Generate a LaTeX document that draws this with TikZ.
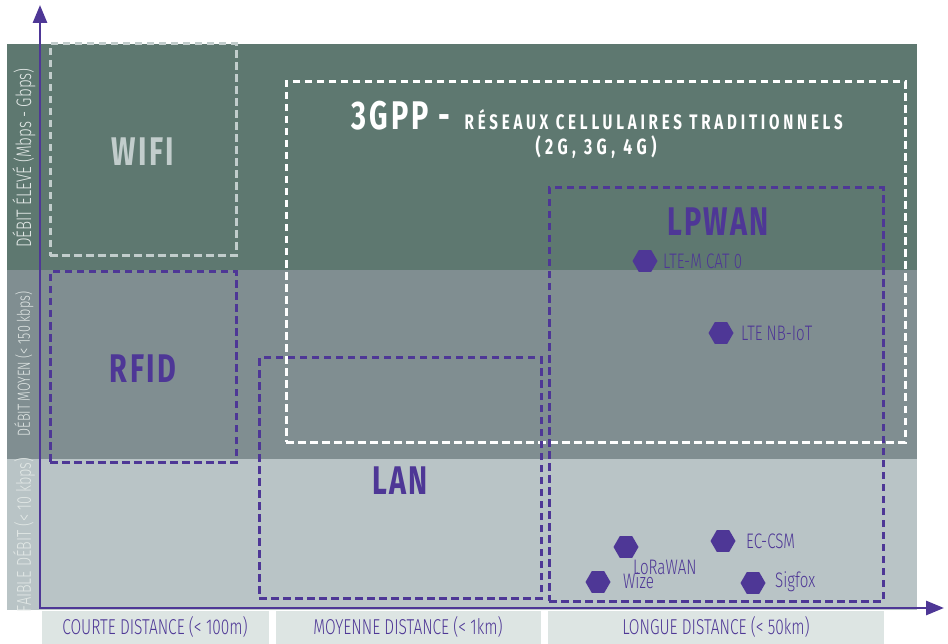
\documentclass[tikz,border=0pt]{standalone}
\usepackage{fontspec}
\usetikzlibrary{shapes.geometric,arrows.meta}
\setmainfont{Fira Sans}[FakeStretch=0.72]
\IfFontExistsTF{Fira Sans Light}{\newfontfamily\lightf{Fira Sans Light}[FakeStretch=0.72]}{\newfontfamily\lightf{Fira Sans}[FakeStretch=0.72]}
\newfontfamily\boldf{Fira Sans Bold}[FakeStretch=0.72]
\definecolor{bandtop}{HTML}{5E7870}
\definecolor{bandmid}{HTML}{808E91}
\definecolor{bandlow}{HTML}{B9C4C6}
\definecolor{labbox}{HTML}{DDE5E3}
\definecolor{purp}{HTML}{4E3796}
\definecolor{wgray}{HTML}{C2CDCC}
\definecolor{axtext}{HTML}{E2E8E6}
\begin{document}
\begin{tikzpicture}[x=1pt,y=-1pt,
  dbox/.style={draw=#1, line width=3pt, dash pattern=on 7.5pt off 4.5pt, inner sep=0pt, fill=none},
  hexa/.style={regular polygon, regular polygon sides=6, fill=purp, minimum size=25pt, inner sep=0pt},
  bigtxt/.style={font=\boldf\addfontfeature{LetterSpace=6}\fontsize{40}{40}\selectfont, inner sep=0pt},
  tag/.style={font=\lightf\fontsize{21}{21}\selectfont, text=purp, anchor=west, inner sep=0pt},
  axlab/.style={font=\lightf\fontsize{#1}{#1}\selectfont, text=axtext, rotate=90, inner sep=0pt},
  distlab/.style={font=\lightf\fontsize{21.5}{21.5}\selectfont, text=purp, inner sep=0pt},
  axis/.style={draw=purp, line width=2.8pt, {Triangle[length=18pt,width=14pt]}-{Triangle[length=18pt,width=14pt]}}
]
\useasboundingbox[fill=white] (0,0) rectangle (948,644);
% bands
\fill[bandtop] (7,44) rectangle (917,270);
\fill[bandmid] (7,270) rectangle (917,459);
\fill[bandlow] (7,459) rectangle (917,610);
% distance label boxes
\fill[labbox] (42,611) rectangle (269,644);
\fill[labbox] (276,611) rectangle (541,644);
\fill[labbox] (548,611) rectangle (884,644);
% axis labels
\node[axlab=21] (ylhigh) at (24,158) {DÉBIT ÉLEVÉ (Mbps - Gbps)};
\node[axlab=17.5] (ylmid) at (24,364) {DÉBIT MOYEN (< 150 kbps)};
\node[axlab=20] (yllow) at (24,535) {FAIBLE DÉBIT (< 10 kbps)};
\node[distlab] (dshort) at (155,627) {COURTE DISTANCE (< 100m)};
\node[distlab] (dmid) at (408,627) {MOYENNE DISTANCE (< 1km)};
\node[distlab] (dlong) at (716,627) {LONGUE DISTANCE (< 50km)};
% boxes
\node[dbox=wgray, minimum width=186pt, minimum height=212pt] (wifibox) at (143,150) {};
\node[dbox=purp, minimum width=186pt, minimum height=190pt] (rfidbox) at (143,367) {};
\node[dbox=white, minimum width=619pt, minimum height=360pt] (gppbox) at (595.5,262) {};
\node[dbox=purp, minimum width=282pt, minimum height=240pt] (lanbox) at (400,478) {};
\node[dbox=purp, minimum width=334pt, minimum height=413pt] (lpwanbox) at (716,394.5) {};
% big labels
\node[bigtxt, text=wgray] (wifi) at (143,152) {WIFI};
\node[bigtxt, text=purp] (rfid) at (143,369) {RFID};
\node[bigtxt, text=purp] (lan) at (400,481) {LAN};
\node[bigtxt, text=purp] (lpwan) at (718,222) {LPWAN};
\node[anchor=base, text=white, inner sep=0pt] (gpp) at (597,130)
  {{\boldf\addfontfeature{LetterSpace=8}\fontsize{40}{40}\selectfont 3GPP -}\hspace{14pt}{\boldf\addfontfeature{LetterSpace=18}\fontsize{21}{21}\selectfont RÉSEAUX CELLULAIRES TRADITIONNELS}};
\node[anchor=base, text=white, inner sep=0pt] (gen) at (596,155)
  {\boldf\addfontfeature{LetterSpace=20}\fontsize{22}{22}\selectfont (2G, 3G, 4G)};
% technologies
\node[hexa] (ltem) at (645,261) {};
\node[tag] (ltemt) at (663,261) {LTE-M CAT 0};
\node[hexa] (nbiot) at (721,333) {};
\node[tag] (nbiott) at (741,333) {LTE NB-IoT};
\node[hexa] (lora) at (626,547) {};
\node[tag] (lorat) at (633,567) {LoRaWAN};
\node[hexa] (wize) at (598,582) {};
\node[tag] (wizet) at (623,581) {Wize};
\node[hexa] (ecgsm) at (723,541) {};
\node[tag] (ecgsmt) at (746,541) {EC-CSM};
\node[hexa] (sigfox) at (753,583) {};
\node[tag] (sigfoxt) at (775,582) {Sigfox};
% axes
\coordinate (ytip) at (40,5);
\coordinate (orig) at (40,608);
\coordinate (xtip) at (944,608);
\draw[axis] (ytip) -- (orig) -- (xtip);
\end{tikzpicture}
\end{document}
